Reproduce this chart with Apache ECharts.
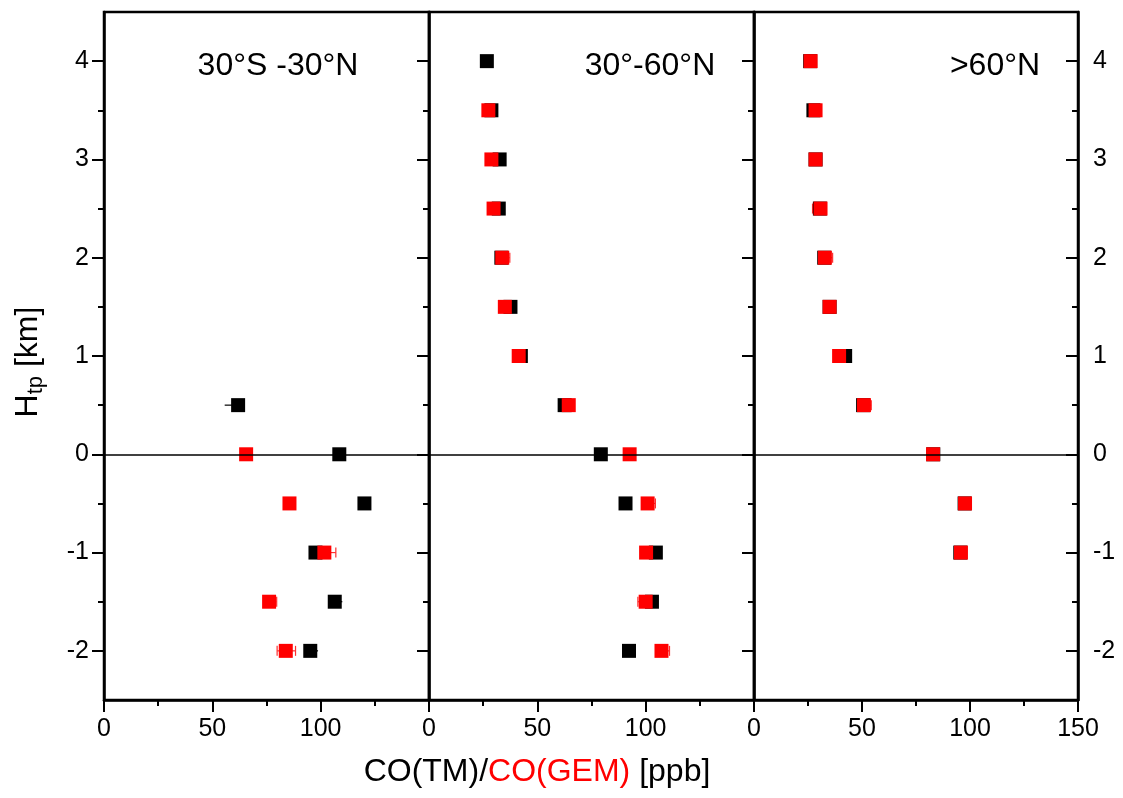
<!DOCTYPE html>
<html>
<head>
<meta charset="utf-8">
<script src="https://cdn.jsdelivr.net/npm/echarts@6/dist/echarts.min.js"></script>
<style>
  html, body { margin: 0; padding: 0; background: #fff; }
  #chart { width: 1123px; height: 798px; }
</style>
</head>
<body>
<div id="chart"></div>
<script>
// ---------------- DATA ----------------
const levels = [4, 3.5, 3, 2.5, 2, 1.5, 1, 0.5, 0, -0.5, -1, -1.5, -2];
const panelTitles = ['30°S -30°N', '30°-60°N', '>60°N'];
const yTickLabels = [-2, -1, 0, 1, 2, 3, 4];
const yMinorTicks = [-2, -1.5, -1, -0.5, 0, 0.5, 1, 1.5, 2, 2.5, 3, 3.5, 4];
const xTickLabels = [0, 50, 100, 150];

// CO(TM) (black) and CO(GEM) (red), ppb, per level (null = no value)
const tmTrop  = [null, null, null, null, null, null, null, 61.9, 108.6, 120.2, 97.6, 106.5, 95.2];
const gemTrop = [null, null, null, null, null, null, null, null, 65.6, 85.6, 101.7, 76.2, 83.9];
const tmMid   = [26.7, 28.8, 32.6, 32.2, 33.4, 37.6, 42.4, 62.6, 79.3, 90.7, 104.7, 102.9, 92.3];
const gemMid  = [null, 27.4, 28.8, 29.8, 33.8, 35.0, 41.4, 64.5, 92.6, 100.9, 100.2, 100.0, 107.3];
const tmHigh  = [26.0, 27.5, 28.5, 30.5, 32.5, 35.0, 42.2, 50.5, 83.0, 97.5, 95.5, null, null];
const gemHigh = [26.2, 28.5, 28.5, 30.8, 32.8, 35.0, 39.4, 50.9, 82.9, 97.7, 95.8, null, null];

// error bars: [low, level, high]
const errTmTrop  = [[55.7, 0.5, 61.9], [106.5, -1.5, 110.0], [95.2, -2, 98.8]];
const errGemTrop = [[96.9, -1, 107.0], [79.9, -2, 88.4], [76.2, -1.5, 79.7]];
const errTmMid   = [];
const errGemMid  = [[96.4, -1.5, 103.0], [100.9, -0.5, 104.5], [107.3, -2, 111.0], [33.8, 2, 37.3]];
const errTmHigh  = [];
const errGemHigh = [[50.9, 0.5, 54.3], [32.8, 2, 36.4], [27.1, 2.5, 30.8]];

// ---------------- CHART ----------------
const FONT = '"Liberation Sans", Arial, sans-serif';
const BLACK = '#000000';
const RED = '#ff0000';

const panels = [
  { tm: tmTrop, gem: gemTrop, eTm: errTmTrop, eGem: errGemTrop },
  { tm: tmMid, gem: gemMid, eTm: errTmMid, eGem: errGemMid },
  { tm: tmHigh, gem: gemHigh, eTm: errTmHigh, eGem: errGemHigh }
];

const gridLefts = [104, 429, 754];
const gridWidths = [325, 325, 324];
const grids = gridLefts.map((l, i) => ({
  left: l, top: 12, width: gridWidths[i], height: 688,
  show: true, borderColor: BLACK, borderWidth: 2.5, backgroundColor: 'transparent',
  containLabel: false, outerBoundsMode: 'none'
}));

const xAxes = gridLefts.map((l, i) => ({
  type: 'value', gridIndex: i, min: 0, max: 150, interval: 50, position: 'bottom',
  axisLine: { show: true, onZero: false, lineStyle: { color: BLACK, width: 2.5 } },
  axisTick: { show: true, length: 12, lineStyle: { color: BLACK, width: 2 } },
  minorTick: { show: true, splitNumber: 2, length: 6, lineStyle: { color: BLACK, width: 2 } },
  splitLine: { show: false },
  minorSplitLine: { show: false },
  axisLabel: {
    show: true, color: BLACK, fontSize: 25, fontFamily: FONT, margin: 17,
    showMinLabel: true, showMaxLabel: i === 2, hideOverlap: false,
    formatter: v => (i < 2 && v === 150) ? '' : String(v)
  }
}));

function yAxisDef(gridIndex, position, major, withLabels, inside) {
  return {
    type: 'value', gridIndex, min: -2.5, max: 4.5, position,
    axisLine: { show: major, onZero: false, lineStyle: { color: BLACK, width: 2.5 } },
    axisTick: {
      show: true, inside: inside, length: major ? 12 : 6,
      customValues: major ? yTickLabels : yMinorTicks,
      lineStyle: { color: BLACK, width: 2 }
    },
    splitLine: { show: false },
    axisLabel: {
      show: withLabels, color: BLACK, fontSize: 25, fontFamily: FONT,
      margin: 15, customValues: yTickLabels,
      formatter: v => String(v)
    }
  };
}
const yAxes = [
  yAxisDef(0, 'left', true, true, false),
  yAxisDef(0, 'left', false, false, false),
  yAxisDef(1, 'left', true, false, false),
  yAxisDef(1, 'left', false, false, false),
  yAxisDef(2, 'left', true, false, false),
  yAxisDef(2, 'left', false, false, false),
  yAxisDef(2, 'right', true, true, true),
  yAxisDef(2, 'right', false, false, true)
];
const mainY = [0, 2, 4];

function pts(arr) {
  const out = [];
  levels.forEach((h, k) => { if (arr[k] !== null) out.push([arr[k], h]); });
  return out;
}

function errSeries(data, i, color, withCaps) {
  return {
    type: 'custom', xAxisIndex: i, yAxisIndex: mainY[i], z: 2, silent: true,
    data: data,
    renderItem: function (params, api) {
      const lo = api.coord([api.value(0), api.value(1)]);
      const hi = api.coord([api.value(2), api.value(1)]);
      const cap = 5;
      const st = { stroke: color, lineWidth: 1.2 };
      const children = [
        { type: 'line', shape: { x1: lo[0], y1: lo[1], x2: hi[0], y2: hi[1] }, style: st }
      ];
      if (withCaps) {
        children.push({ type: 'line', shape: { x1: lo[0], y1: lo[1] - cap, x2: lo[0], y2: lo[1] + cap }, style: st });
        children.push({ type: 'line', shape: { x1: hi[0], y1: hi[1] - cap, x2: hi[0], y2: hi[1] + cap }, style: st });
      }
      return { type: 'group', children };
    }
  };
}

const series = [];
panels.forEach((p, i) => {
  series.push({
    type: 'line', xAxisIndex: i, yAxisIndex: mainY[i], data: [], silent: true,
    markLine: {
      silent: true, symbol: ['none', 'none'], label: { show: false },
      lineStyle: { color: BLACK, width: 1.5, type: 'solid' },
      data: [{ yAxis: 0 }], animation: false
    }
  });
  series.push(errSeries(p.eTm, i, BLACK, false));
  series.push({
    type: 'scatter', xAxisIndex: i, yAxisIndex: mainY[i], z: 3,
    symbol: 'rect', symbolSize: 14, data: pts(p.tm),
    itemStyle: { color: BLACK, opacity: 1 }
  });
  series.push(errSeries(p.eGem, i, '#ff3030', true));
  series.push({
    type: 'scatter', xAxisIndex: i, yAxisIndex: mainY[i], z: 4,
    symbol: 'rect', symbolSize: 14, data: pts(p.gem),
    itemStyle: { color: RED, opacity: 1 }
  });
});

const titleX = [278, 650, 995];
const graphics = panelTitles.map((t, i) => ({
  type: 'text', x: titleX[i], y: 66, z: 10,
  style: { text: t, fill: BLACK, font: '32px ' + FONT, align: 'center', verticalAlign: 'middle' }
}));
graphics.push({
  type: 'text', x: 537, y: 772, z: 10,
  style: {
    text: '{a|CO(TM)/}{r|CO(GEM)}{a| [ppb]}',
    align: 'center', verticalAlign: 'middle',
    rich: {
      a: { fill: BLACK, fontSize: 32, fontFamily: FONT },
      r: { fill: RED, fontSize: 32, fontFamily: FONT }
    }
  }
});
graphics.push({
  type: 'text', x: 28, y: 362, rotation: Math.PI / 2, z: 10,
  style: {
    text: '{h|H}{s|tp}{h| [km]}',
    align: 'center', verticalAlign: 'middle',
    rich: {
      h: { fill: BLACK, fontSize: 32, fontFamily: FONT },
      s: { fill: BLACK, fontSize: 22, fontFamily: FONT, padding: [16, 0, 0, 0] }
    }
  }
});

const chart = echarts.init(document.getElementById('chart'), null, { renderer: 'canvas' });
chart.setOption({
  backgroundColor: '#ffffff',
  animation: false,
  grid: grids,
  xAxis: xAxes,
  yAxis: yAxes,
  series: series,
  graphic: graphics
});
</script>
</body>
</html>
